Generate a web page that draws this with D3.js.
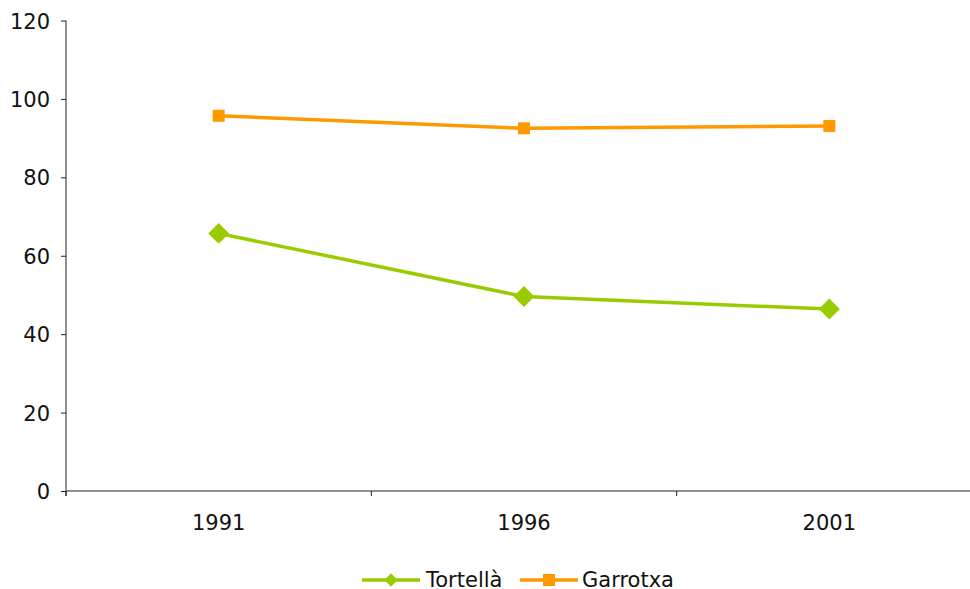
<!DOCTYPE html>
<html>
<head>
<meta charset="utf-8">
<script src="https://cdn.jsdelivr.net/npm/d3@7"></script>
<style>
html,body{margin:0;padding:0;background:#fff;}
svg{display:block;}
text{font-family:"DejaVu Sans",Verdana,sans-serif;fill:#111;}
</style>
</head>
<body>
<svg id="chart" width="970" height="589"></svg>
<script>
const years = ["1991", "1996", "2001"];
const tortella = [65.7, 49.6, 46.4];
const garrotxa = [95.7, 92.5, 93.1];
const yTicks = [0, 20, 40, 60, 80, 100, 120];
const seriesNames = ["Tortellà", "Garrotxa"];
const seriesColors = ["#99CC00", "#FF9900"];

(function () {
const svg = d3.select("#chart");
const mLeft = 66, mRight = 982, mTop = 20.5, mBottom = 491;

const x = d3.scaleBand().domain(years).range([mLeft, mRight]);
const y = d3.scaleLinear().domain([0, 120]).range([mBottom, mTop]);

// y axis
const yAxis = svg.append("g").attr("transform", `translate(${mLeft},0)`)
  .call(d3.axisLeft(y).tickValues(yTicks).tickSize(5).tickPadding(11).tickFormat(d3.format("d")));
yAxis.select(".domain").attr("stroke", "#222").attr("d", `M0,${mTop}V${mBottom + 5}`);
yAxis.selectAll(".tick line").attr("stroke", "#222");
yAxis.selectAll("text").style("font-size", "21px").attr("dy", "0.36em").style("fill", "#111")
  .style("font-family", "'DejaVu Sans',Verdana,sans-serif");

// x axis
const xAxis = svg.append("g").attr("transform", `translate(0,${mBottom})`);
xAxis.append("line").attr("x1", mLeft).attr("x2", mRight).attr("stroke", "#222");
const bounds = years.map(d => x(d)).concat([mRight]);
xAxis.selectAll("line.tk").data(bounds).enter().append("line").attr("class", "tk")
  .attr("x1", d => d).attr("x2", d => d).attr("y1", 0).attr("y2", 5).attr("stroke", "#222");
xAxis.selectAll("text").data(years).enter().append("text")
  .attr("x", d => x(d) + x.bandwidth() / 2).attr("y", 39)
  .attr("text-anchor", "middle").style("font-size", "21px").text(d => d);

const cx = d => x(d) + x.bandwidth() / 2;
const data = [tortella, garrotxa];
const line = d3.line().x((v, i) => cx(years[i])).y(v => y(v));

data.forEach((vals, si) => {
  svg.append("path").datum(vals).attr("d", line).attr("fill", "none")
    .attr("stroke", seriesColors[si]).attr("stroke-width", 3.5);
});

// Tortellà diamonds
const ds = 14.8;
svg.selectAll("rect.dia").data(tortella).enter().append("rect").attr("class", "dia")
  .attr("x", -ds / 2).attr("y", -ds / 2).attr("width", ds).attr("height", ds)
  .attr("transform", (v, i) => `translate(${cx(years[i])},${y(v)}) rotate(45)`)
  .attr("fill", seriesColors[0]);
// Garrotxa squares
const sq = 12;
svg.selectAll("rect.sq").data(garrotxa).enter().append("rect").attr("class", "sq")
  .attr("x", (v, i) => cx(years[i]) - sq / 2).attr("y", v => y(v) - sq / 2)
  .attr("width", sq).attr("height", sq).attr("fill", seriesColors[1]);

// legend
const ly = 580;
const lg = svg.append("g");
const items = [{x0: 362, tx: 426}, {x0: 520, tx: 582}];
items.forEach((it, i) => {
  lg.append("line").attr("x1", it.x0).attr("x2", it.x0 + 58).attr("y1", ly).attr("y2", ly)
    .attr("stroke", seriesColors[i]).attr("stroke-width", 3.5);
  const mx = it.x0 + 29;
  if (i === 0) {
    lg.append("rect").attr("x", -4.7).attr("y", -4.7).attr("width", 9.4).attr("height", 9.4)
      .attr("transform", `translate(${mx},${ly}) rotate(45)`).attr("fill", seriesColors[i]);
  } else {
    lg.append("rect").attr("x", mx - 6).attr("y", ly - 6).attr("width", 12).attr("height", 12)
      .attr("fill", seriesColors[i]);
  }
  lg.append("text").attr("x", it.tx).attr("y", ly).attr("dy", "0.35em")
    .style("font-size", "21px").text(seriesNames[i]);
});
})();
</script>
</body>
</html>
